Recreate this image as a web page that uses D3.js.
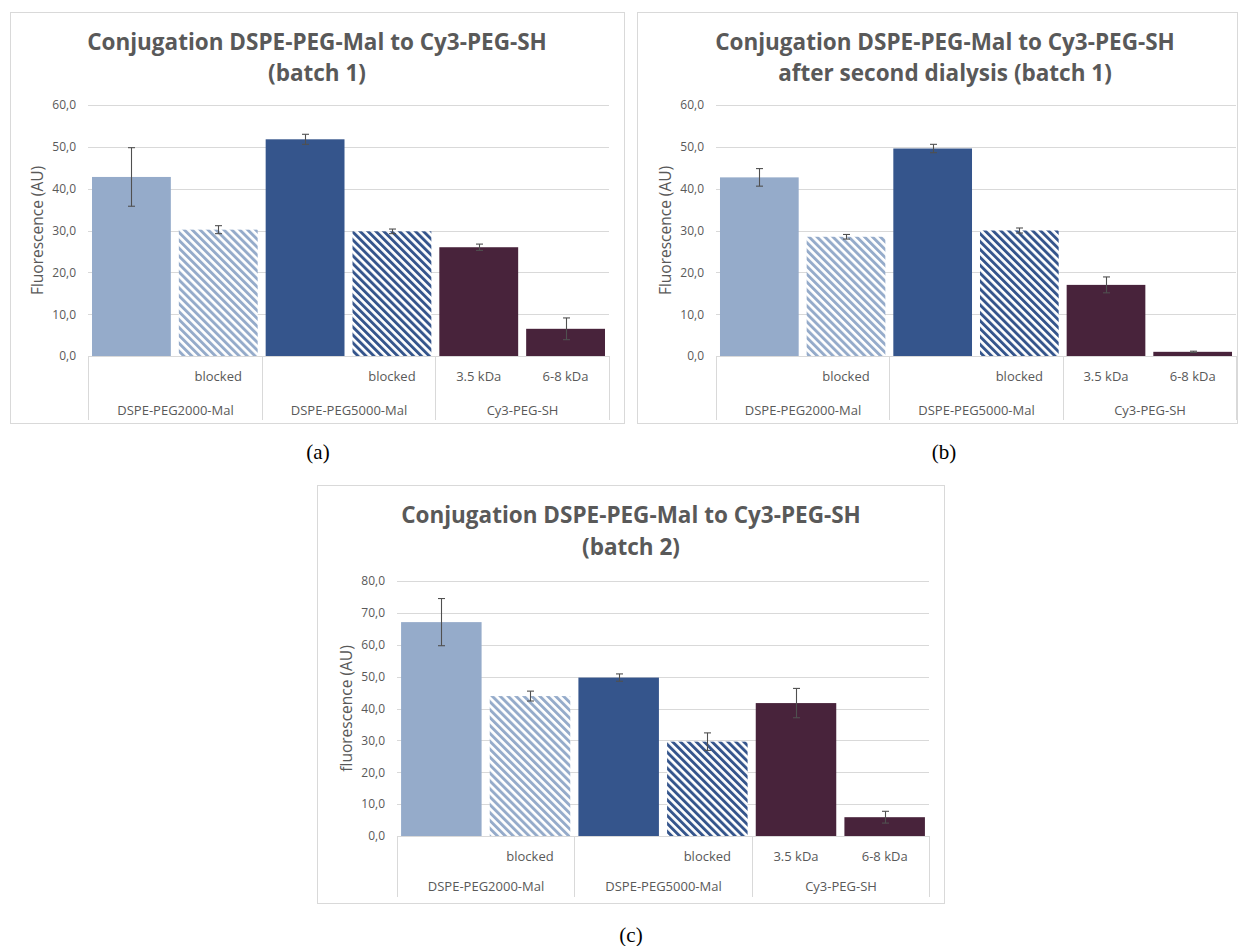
<!DOCTYPE html>
<html><head><meta charset="utf-8">
<script src="https://cdn.jsdelivr.net/npm/d3@7/dist/d3.min.js"></script>
<style>body{margin:0;background:#fff}svg{display:block}</style>
</head><body>
<script>
// ---- data ----
const groups = ["DSPE-PEG2000-Mal", "DSPE-PEG5000-Mal", "Cy3-PEG-SH"];
const subLabels = ["", "blocked", "", "blocked", "3.5 kDa", "6-8 kDa"];
const groupOf = [0, 0, 1, 1, 2, 2];
const barKeys = ["b1", "b2", "b3", "b4", "b5", "b6"];
const valuesA = [42.8, 30.2, 51.8, 29.8, 26.0, 6.5];
const errorsA = [7.0, 0.95, 1.2, 0.55, 0.75, 2.6];
const valuesB = [42.7, 28.5, 49.6, 30.0, 17.0, 1.0];
const errorsB = [2.1, 0.55, 1.0, 0.6, 1.9, 0.15];
const valuesC = [67.1, 43.9, 49.7, 29.6, 41.7, 5.9];
const errorsC = [7.4, 1.55, 1.15, 2.75, 4.6, 1.85];
const ticksAB = [0, 10, 20, 30, 40, 50, 60];
const ticksC = [0, 10, 20, 30, 40, 50, 60, 70, 80];
const titleA = ["Conjugation DSPE-PEG-Mal to Cy3-PEG-SH", "(batch 1)"];
const titleB = ["Conjugation DSPE-PEG-Mal to Cy3-PEG-SH", "after second dialysis (batch 1)"];
const titleC = ["Conjugation DSPE-PEG-Mal to Cy3-PEG-SH", "(batch 2)"];

const colLight = "#95ABCA", colDark = "#35558C", colMaroon = "#48233B";
const fills = ["solid:" + colLight, "hatch:" + colLight, "solid:" + colDark, "hatch:" + colDark, "solid:" + colMaroon, "solid:" + colMaroon];

const W = 1240, H = 946;
const svg = d3.select("body").append("svg").attr("width", W).attr("height", H);
const defs = svg.append("defs");
function hatch(id, color) {
  const p = defs.append("pattern").attr("id", id).attr("patternUnits", "userSpaceOnUse")
    .attr("width", 5.6).attr("height", 5.6).attr("patternTransform", "rotate(-45)");
  p.append("rect").attr("width", 5.6).attr("height", 5.6).attr("fill", "#fff");
  p.append("rect").attr("width", 2.9).attr("height", 5.6).attr("fill", color);
}
hatch("hLight", colLight);
hatch("hDark", colDark);
function fillOf(i) {
  const [t, c] = fills[i].split(":");
  if (t === "solid") return c;
  return c === colLight ? "url(#hLight)" : "url(#hDark)";
}

const FONT = "'Open Sans', 'Noto Sans', sans-serif";
const grey = "#595959", gridC = "#D9D9D9";

function panel(cfg) {
  const g = svg.append("g");
  g.append("rect").attr("x", cfg.fx + 0.5).attr("y", cfg.fy + 0.5).attr("width", cfg.fw).attr("height", cfg.fh)
    .attr("fill", "#fff").attr("stroke", gridC).attr("stroke-width", 1);
  // title
  cfg.title.forEach((t, i) => {
    g.append("text").attr("x", cfg.tx).attr("y", cfg.ty + i * cfg.tdy).attr("text-anchor", "middle")
      .attr("font-family", FONT).attr("font-weight", 700).attr("font-size", 22.5).attr("fill", grey)
      .text(t);
  });
  const x = d3.scaleBand().domain(barKeys).range([cfg.left, cfg.right]).paddingInner(0.092).paddingOuter(0.046);
  const y = d3.scaleLinear().domain([0, cfg.ymax]).range([cfg.bottom, cfg.top]);
  // grid
  g.append("g").selectAll("line").data(cfg.ticks.filter(d => d > 0)).join("line")
    .attr("x1", cfg.left).attr("x2", cfg.right).attr("y1", d => Math.round(y(d)) + 0.5).attr("y2", d => Math.round(y(d)) + 0.5)
    .attr("stroke", gridC).attr("stroke-width", 1);
  // y axis labels
  const ya = d3.axisLeft(y).tickValues(cfg.ticks).tickSize(0).tickPadding(12)
    .tickFormat(d => d3.format(".1f")(d).replace(".", ","));
  const yg = g.append("g").attr("transform", `translate(${cfg.left},0)`).call(ya);
  yg.select(".domain").remove();
  yg.selectAll("text").attr("font-family", FONT).attr("font-size", 12).attr("fill", grey);
  // axis title
  g.append("text").attr("transform", `translate(${cfg.atx},${(cfg.top + cfg.bottom) / 2}) rotate(-90)`)
    .attr("text-anchor", "middle").attr("dy", "0.35em").attr("font-family", FONT).attr("font-size", 15.5)
    .attr("fill", grey).text(cfg.axisTitle);
  // bars
  g.append("g").selectAll("rect").data(cfg.values).join("rect")
    .attr("x", (d, i) => x(barKeys[i])).attr("width", x.bandwidth())
    .attr("y", d => y(d)).attr("height", d => y(0) - y(d))
    .attr("fill", (d, i) => fillOf(i));
  // error bars
  const eb = g.append("g").attr("stroke", "#505050").attr("stroke-width", 1.1);
  cfg.values.forEach((v, i) => {
    const cx = Math.round(x(barKeys[i]) + x.bandwidth() / 2) + 0.5;
    const e = cfg.errors[i];
    eb.append("line").attr("x1", cx).attr("x2", cx).attr("y1", y(v + e)).attr("y2", y(v - e));
    [v + e, v - e].forEach(yy => eb.append("line").attr("x1", cx - 3.5).attr("x2", cx + 3.5).attr("y1", y(yy)).attr("y2", y(yy)));
  });
  // category axis
  const ax = g.append("g").attr("stroke", gridC).attr("stroke-width", 1);
  ax.append("line").attr("x1", cfg.left).attr("x2", cfg.right).attr("y1", cfg.bottom + 0.5).attr("y2", cfg.bottom + 0.5);
  const step = x.step();
  const bounds = [0, 2, 4, 6].map(k => Math.round(cfg.left + k * step) + 0.5);
  bounds.forEach(bx => ax.append("line").attr("x1", bx).attr("x2", bx).attr("y1", cfg.bottom).attr("y2", cfg.boxBottom));
  g.append("g").selectAll("text").data(subLabels).join("text")
    .attr("x", (d, i) => x(barKeys[i]) + x.bandwidth() / 2).attr("y", cfg.subY).attr("dy", "0.35em")
    .attr("text-anchor", "middle").attr("font-family", FONT).attr("font-size", 13).attr("fill", grey).text(d => d);
  g.append("g").selectAll("text").data(groups).join("text")
    .attr("x", (d, i) => (bounds[i] + bounds[i + 1]) / 2).attr("y", cfg.grpY).attr("dy", "0.35em")
    .attr("text-anchor", "middle").attr("font-family", FONT).attr("font-size", 13).attr("fill", grey).text(d => d);
  // caption
  svg.append("text").attr("x", cfg.capX).attr("y", cfg.capY).attr("dy", "0.35em").attr("text-anchor", "middle")
    .attr("font-family", "'Liberation Serif', 'Times New Roman', serif").attr("font-size", 21).attr("fill", "#000")
    .text(cfg.caption);
}

panel({fx: 10, fy: 12, fw: 614, fh: 411, title: titleA, tx: 317, ty: 50, tdy: 31,
  left: 88, right: 609, top: 105, bottom: 356, ymax: 60, ticks: ticksAB, atx: 38,
  axisTitle: "Fluorescence (AU)", values: valuesA, errors: errorsA, boxBottom: 420, subY: 376, grpY: 410,
  caption: "(a)", capX: 318, capY: 452});
panel({fx: 637, fy: 12, fw: 600, fh: 411, title: titleB, tx: 945, ty: 50, tdy: 31,
  left: 716, right: 1236, top: 105, bottom: 356, ymax: 60, ticks: ticksAB, atx: 666,
  axisTitle: "Fluorescence (AU)", values: valuesB, errors: errorsB, boxBottom: 420, subY: 376, grpY: 410,
  caption: "(b)", capX: 944, capY: 452});
panel({fx: 317, fy: 485, fw: 627, fh: 418, title: titleC, tx: 631, ty: 523, tdy: 32,
  left: 397, right: 929, top: 581, bottom: 836, ymax: 80, ticks: ticksC, atx: 347,
  axisTitle: "fluorescence (AU)", values: valuesC, errors: errorsC, boxBottom: 897, subY: 856, grpY: 886,
  caption: "(c)", capX: 631, capY: 935});
</script>
</body></html>
